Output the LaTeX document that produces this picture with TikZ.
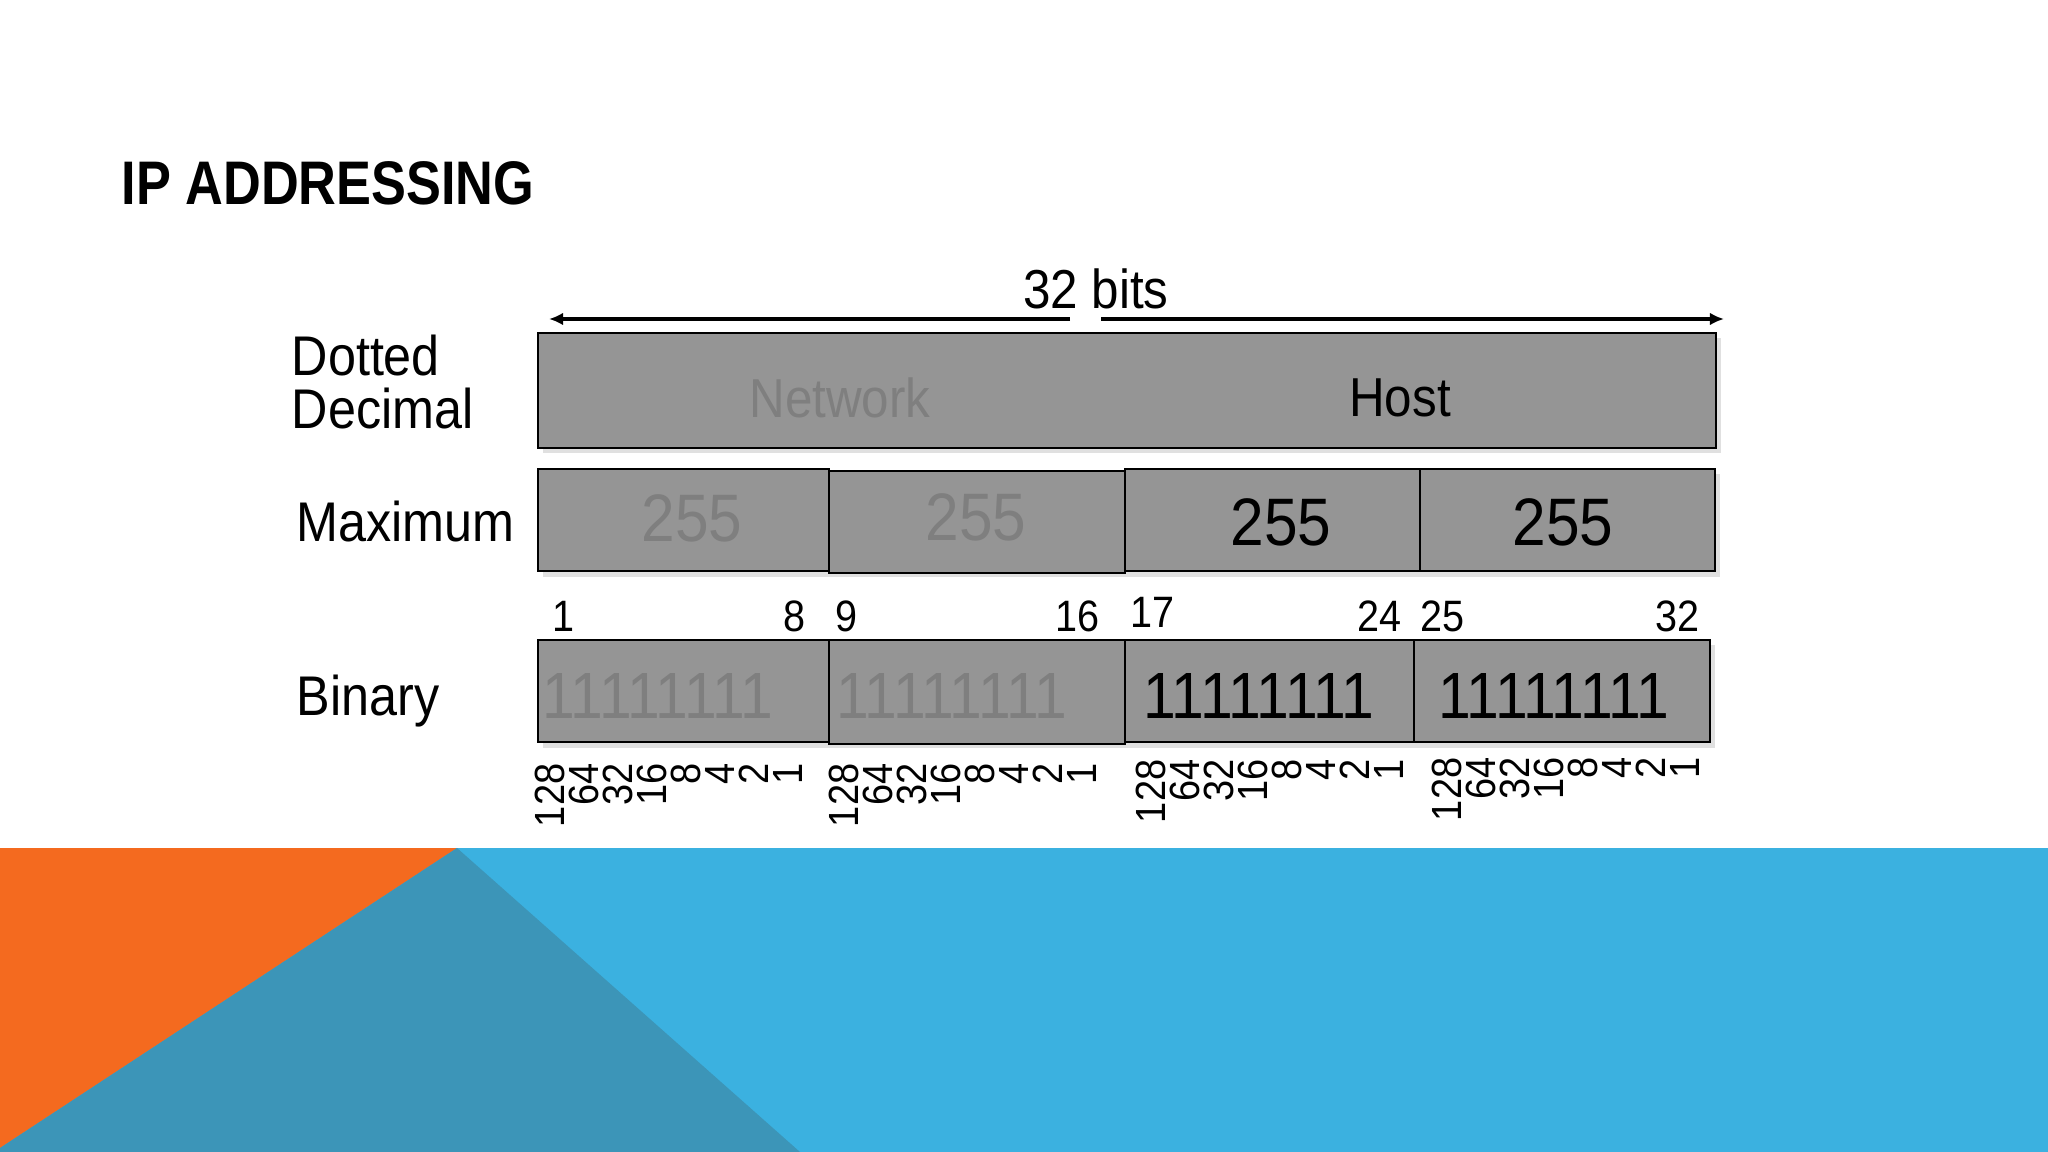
\documentclass[tikz,border=0pt]{standalone}
\usepackage{fontspec}
\setmainfont{Liberation Sans}[FakeStretch=0.9]
\newfontfamily\titlefont{Liberation Sans}[FakeStretch=0.85]
\usetikzlibrary{arrows.meta}

\definecolor{naranja}{HTML}{F46A1F}
\definecolor{celeste}{HTML}{3BB1E0}
\definecolor{azul}{HTML}{3C95B8}
\definecolor{cajagris}{HTML}{959595}
\definecolor{textogris}{HTML}{7F7F7F}

\tikzset{
  celda/.style={fill=cajagris, draw=black, line width=0.8pt},
  sombra/.style={fill=black!12, draw=none},
  etiqueta/.style={inner sep=0pt, anchor=west, align=left, font=\fontsize{15.9}{15.2}\selectfont},
  texto/.style={inner sep=0pt, font=\fontsize{15.6}{18}\selectfont},
  maximo/.style={inner sep=0pt, font=\fontsize{19.1}{22}\selectfont},
  binario/.style={inner sep=0pt, font=\fontsize{18.6}{22}\selectfont},
  posicion/.style={inner sep=0pt, font=\fontsize{12.5}{15}\selectfont},
  peso/.style={inner sep=0pt, rotate=90, anchor=east, font=\fontsize{12}{14}\selectfont},
  flecha/.style={line width=1.1pt, -{Latex[length=4pt,width=3.6pt]}}
}

\begin{document}
\begin{tikzpicture}[x=0.01cm, y=-0.01cm]
    \useasboundingbox (0,0) rectangle (2048,1152);

    % Fondo
    \fill[celeste] (0,848) rectangle (2048,1152);
    \fill[naranja] (0,848) -- (457,848) -- (0,1148) -- cycle;
    \fill[azul] (457,848) -- (800,1152) -- (0,1152) -- (0,1148) -- cycle;

    % Titulo
    \node[inner sep=0pt, anchor=base west, font=\titlefont\bfseries\fontsize{17.5}{21}\selectfont] (titulo) at (121,205) {IP ADDRESSING};

    % Etiquetas
    \node[etiqueta] (dotted) at (291,382) {Dotted\\Decimal};
    \node[etiqueta] (maximum) at (296,522) {Maximum};
    \node[etiqueta] (binary) at (296,701) {Binary};

    % 32 bits
    \node[texto] (bits) at (1096,289) {32 bits};
    \coordinate (izq) at (549,319);
    \coordinate (cortei) at (1070,319);
    \coordinate (corted) at (1101,319);
    \coordinate (der) at (1724,319);
    \draw[flecha] (cortei) -- (izq);
    \draw[flecha] (corted) -- (der);

    % Cajas
    \fill[sombra] (543,338) rectangle (1721,453);
    \draw[celda] (538,333) rectangle (1716,448);
    \node[texto, text=textogris] (network) at (840,398) {Network};
    \node[texto] (host) at (1400,398) {Host};

    \fill[sombra] (543,474) rectangle (1720,577);
    \draw[celda] (538,469) rectangle (829,571);
    \draw[celda] (829,471) rectangle (1125,573);
    \draw[celda] (1125,469) rectangle (1420,571);
    \draw[celda] (1420,469) rectangle (1715,571);
    \node[maximo, text=textogris] (max1) at (692,518) {255};
    \node[maximo, text=textogris] (max2) at (976,517) {255};
    \node[maximo] (max3) at (1281,522) {255};
    \node[maximo] (max4) at (1563,522) {255};

    \fill[sombra] (543,645) rectangle (1715,748);
    \draw[celda] (538,640) rectangle (829,742);
    \draw[celda] (829,640) rectangle (1125,744);
    \draw[celda] (1125,640) rectangle (1414,742);
    \draw[celda] (1414,640) rectangle (1710,742);
    \node[binario, text=textogris] (bin1) at (658,696) {11111111};
    \node[binario, text=textogris] (bin2) at (952,696) {11111111};
    \node[binario] (bin3) at (1259,696) {11111111};
    \node[binario] (bin4) at (1554,696) {11111111};

    % Posiciones
    \node[posicion] (p1) at (563,616) {1};
    \node[posicion] (p8) at (794,616) {8};
    \node[posicion] (p9) at (846,616) {9};
    \node[posicion] (p16) at (1077,616) {16};
    \node[posicion] (p17) at (1152,612) {17};
    \node[posicion] (p24) at (1379,616) {24};
    \node[posicion] (p25) at (1442,616) {25};
    \node[posicion] (p32) at (1677,616) {32};

    % Pesos
    \foreach \g/\x/\y in {1/550/763, 2/844/763, 3/1151/759, 4/1447/757}
      \foreach \w [count=\i from 0] in {128,64,32,16,8,4,2,1}
        \node[peso] (w\g-\i) at (\x+34*\i,\y) {\w};

\end{tikzpicture}
\end{document}
